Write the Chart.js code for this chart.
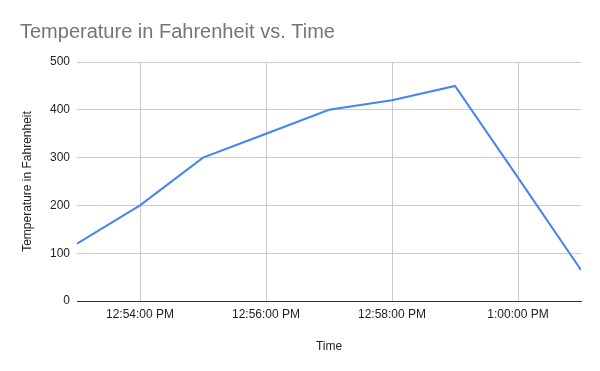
<!DOCTYPE html>
<html>
<head>
<meta charset="utf-8">
<script src="https://cdn.jsdelivr.net/npm/chart.js@4"></script>
<style>
  html, body { margin: 0; padding: 0; background: #fff; }
  #wrap { width: 600px; height: 371px; }
</style>
</head>
<body>
<div id="wrap"><canvas id="chart"></canvas></div>
<script>
// minutes after 12:53:00 PM
const minutes = [0, 1, 2, 3, 4, 5, 6, 7, 8];
const temps = [120, 200, 300, 350, 400, 420, 450, 258, 65];
const tickMinutes = [1, 3, 5, 7];
const tickLabels = ["12:54:00 PM", "12:56:00 PM", "12:58:00 PM", "1:00:00 PM"];

const font = "Arial, 'Liberation Sans', sans-serif";

new Chart(document.getElementById("chart"), {
  type: 'line',
  data: {
    datasets: [{
      label: 'Temperature in Fahrenheit',
      data: minutes.map((m, i) => ({ x: m, y: temps[i] })),
      borderColor: '#4285f4',
      borderWidth: 2,
      pointRadius: 0,
      tension: 0
    }]
  },
  options: {
    responsive: true,
    maintainAspectRatio: false,
    animation: false,
    layout: { padding: { left: 20, right: 19, top: 0, bottom: 0 } },
    plugins: {
      legend: { display: false },
      tooltip: { enabled: false },
      title: {
        display: true,
        text: 'Temperature in Fahrenheit vs. Time',
        align: 'start',
        color: '#757575',
        font: { family: font, size: 20, weight: 'normal' },
        padding: { top: 20, bottom: 18 }
      }
    },
    scales: {
      x: {
        type: 'linear',
        min: 0,
        max: 8,
        afterBuildTicks: axis => { axis.ticks = tickMinutes.map(v => ({ value: v })); },
        afterFit: axis => { axis.height = 70; },
        ticks: {
          color: '#222',
          font: { family: font, size: 12 },
          maxRotation: 0,
          padding: 6,
          callback: (v) => tickLabels[tickMinutes.indexOf(v)]
        },
        grid: { color: '#cccccc', drawTicks: false },
        border: { color: '#333333', width: 1 },
        title: {
          display: true,
          text: 'Time',
          color: '#222',
          font: { family: font, size: 12 },
          padding: { top: 4, bottom: 17 }
        }
      },
      y: {
        min: 0,
        max: 500,
        afterFit: axis => { axis.width = 57; },
        ticks: {
          stepSize: 100,
          color: '#222',
          font: { family: font, size: 12 },
          padding: 7
        },
        grid: { color: '#cccccc', drawTicks: false },
        border: { display: false },
        title: {
          display: true,
          text: 'Temperature in Fahrenheit',
          color: '#222',
          font: { family: font, size: 12 },
          padding: { top: 0, bottom: 4 }
        }
      }
    }
  }
});
</script>
</body>
</html>
